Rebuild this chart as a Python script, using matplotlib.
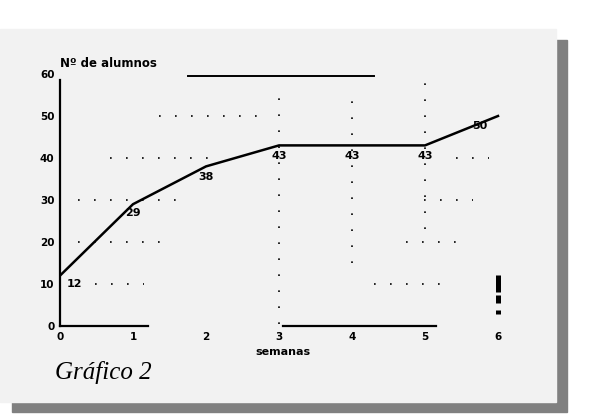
import matplotlib.pyplot as plt
from matplotlib.patches import Rectangle

# data
semanas = [0, 1, 2, 3, 4, 5, 6]
alumnos = [12, 29, 38, 43, 43, 43, 50]
y_ticks = [0, 10, 20, 30, 40, 50, 60]
x_ticks = [0, 1, 2, 3, 4, 5, 6]
# label offsets (in data units) for the value labels
label_dx = [0.2, 0.0, 0.0, 0.0, 0.0, 0.0, -0.25]
label_dy = [-2.0, -2.0, -2.5, -2.5, -2.5, -2.5, -2.3]

# dotted horizontal fragments: (y, x_start, x_end)
h_dots = [(10, 0.48, 1.15), (20, 0.25, 1.4), (30, 0.25, 1.62), (40, 0.68, 2.05),
          (50, 1.35, 2.75), (10, 4.3, 5.22), (20, 4.74, 5.44), (30, 4.99, 5.66),
          (40, 5.42, 5.87)]
# dotted vertical fragments: (x, y_start, y_end)
v_dots = [(3, 0.5, 55.5), (4, 15.0, 56.0), (5, 23.0, 59.5)]
# thick marks at week 6: (y_start, y_end)
marks6 = [(12.1, 8.1), (7.4, 5.5), (3.8, 2.9)]

W, H = 603, 420
fig = plt.figure(figsize=(W / 100, H / 100), dpi=100)
fig.patch.set_facecolor('white')

# shadow + panel (figure pixel coords)
def px_rect(x0, y0, x1, y1, color):
    fig.patches.append(Rectangle((x0 / W, 1 - y1 / H), (x1 - x0) / W, (y1 - y0) / H,
                                 transform=fig.transFigure, color=color, zorder=-5))

px_rect(12, 40, 567, 412, '#808080')
px_rect(0, 29, 556, 402, '#f2f2f2')

# axes: x=0 at px 60, 73 px per week; y=0 at px 326, 4.2 px per unit
x0_px, y0_px = 60, 326
sx, sy = 73.0, 4.2
xmax, ymax = 6.3, 60
ax = fig.add_axes([x0_px / W, 1 - y0_px / H, xmax * sx / W, ymax * sy / H])
ax.set_xlim(0, xmax)
ax.set_ylim(0, ymax)
ax.patch.set_visible(False)

for s in ['top', 'right']:
    ax.spines[s].set_visible(False)
ax.spines['left'].set_bounds(0, 58.6)
ax.spines['bottom'].set_bounds(0, 1.2)
ax.spines['left'].set_linewidth(1.6)
ax.spines['bottom'].set_linewidth(1.6)
ax.plot([3.05, 5.15], [0, 0], color='black', lw=1.6, clip_on=False)

ax.set_xticks(x_ticks)
ax.set_yticks(y_ticks)
ax.tick_params(length=0, labelsize=7.5, pad=4)
for lab in ax.get_xticklabels() + ax.get_yticklabels():
    lab.set_fontweight('bold')

dot = (0, (1, 8.6))
for y, a, b in h_dots:
    ax.plot([a, b], [y, y], color='black', lw=1.2, ls=dot)
for x, a, b in v_dots:
    ax.plot([x, x], [a, b], color='black', lw=1.2, ls=dot, clip_on=False)
ax.plot([1.75, 4.3], [59.5, 59.5], color='black', lw=1.4, clip_on=False)
for a, b in marks6:
    ax.plot([6.0, 6.0], [a, b], color='black', lw=3.6, solid_capstyle='butt')

ax.plot(semanas, alumnos, color='black', lw=1.8)
for x, y, dx, dy in zip(semanas, alumnos, label_dx, label_dy):
    ax.text(x + dx, y + dy, str(y), fontsize=8, fontweight='bold',
            ha='center', va='center')

ax.text(0.0, 62.5, 'Nº de alumnos', fontsize=8.5, fontweight='bold',
        ha='left', va='center')
ax.set_xlabel('semanas', fontsize=8, fontweight='bold', labelpad=2)
ax.xaxis.set_label_coords(3.05 / xmax, -0.085)

fig.text(55 / W, 1 - 372 / H, 'Gráfico 2', family='Liberation Serif', style='italic',
         fontsize=18, ha='left', va='center')

fig.savefig('out.png', dpi=100)
